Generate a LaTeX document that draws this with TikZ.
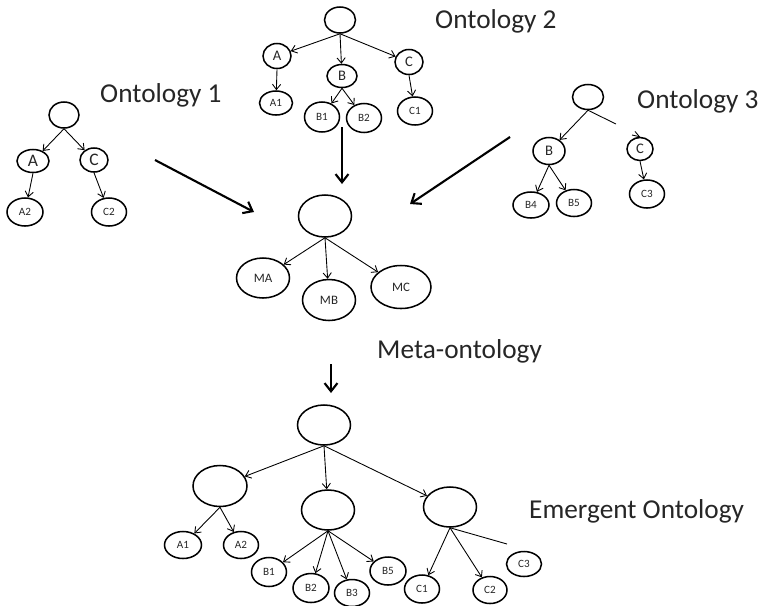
\documentclass[tikz,border=0pt]{standalone}
\usepackage{fontspec}
\setmainfont{Carlito}
\usetikzlibrary{shapes.geometric,arrows.meta}
\newcommand{\pxu}{0.03cm}
\tikzset{
  onode/.style={ellipse, draw, line width=1.3pt, inner sep=0pt, text=black!85},
  sz/.style 2 args={minimum width={#1*\pxu}, minimum height={#2*\pxu}},
  edge/.style={line width=0.75pt, -{Straight Barb[length=4.5pt,width=7pt]}},
  plainedge/.style={line width=0.75pt},
  bigarrow/.style={line width=1.8pt, -{Straight Barb[length=7pt,width=11pt]}},
  title/.style={anchor=base west, inner sep=0pt, font=\fontsize{23.3}{28}\selectfont, text=black!85},
  lbig/.style={font=\fontsize{15}{17}\selectfont},
  lmid/.style={font=\fontsize{12.5}{14}\selectfont},
  lsmall/.style={font=\fontsize{9.5}{11}\selectfont},
  lmeta/.style={font=\fontsize{11}{13}\selectfont},
}
\begin{document}
\begin{tikzpicture}[x=\pxu, y=-\pxu]
\useasboundingbox (0,0) rectangle (761,605);

% ---- Ontology 1 ----
\node[onode, sz={30}{26}] (o1r) at (64,115) {};
\node[onode, sz={32}{23}, lbig] (o1a) at (33,161) {A};
\node[onode, sz={28}{24}, lbig] (o1c) at (94,160) {C};
\node[onode, sz={36}{28}, lsmall] (o1a2) at (25,212) {A2};
\node[onode, sz={35}{28}, lsmall] (o1c2) at (109,212) {C2};
\draw[edge] (o1r.south) -- (o1a);
\draw[edge] (o1r.south) -- (o1c);
\draw[edge] (o1a.south) -- (o1a2);
\draw[edge] (o1c.south) -- (o1c2);
\node[title] (t1) at (100,102) {Ontology 1};

% ---- Ontology 2 ----
\node[onode, sz={31}{26}] (o2r) at (340,20) {};
\node[onode, sz={28}{25}, lmid] (o2a) at (277,56) {A};
\node[onode, sz={30}{23}, lmid] (o2b) at (342,76) {B};
\node[onode, sz={28}{25}, lmid] (o2c) at (409,62) {C};
\node[onode, sz={33}{24}, lsmall] (o2a1) at (276,103) {A1};
\node[onode, sz={35}{30}, lsmall] (o2b1) at (322,117) {B1};
\node[onode, sz={35}{29}, lsmall] (o2b2) at (364,118) {B2};
\node[onode, sz={35}{28}, lsmall] (o2c1) at (415,111) {C1};
\draw[edge] (o2r.south) -- (o2a);
\draw[edge] (o2r.south) -- (o2b);
\draw[edge] (o2r.south) -- (o2c);
\draw[edge] (o2a.south) -- (o2a1);
\draw[edge] (o2b.south) -- (o2b1);
\draw[edge] (o2b.south) -- (o2b2);
\draw[edge] (o2c.south) -- (o2c1);
\node[title] (t2) at (435,28) {Ontology 2};

% ---- Ontology 3 ----
\node[onode, sz={31}{25}] (o3r) at (588,97) {};
\node[onode, sz={32}{27}, lmid] (o3b) at (549,151) {B};
\node[onode, sz={26}{23}, lmid] (o3c) at (640,149) {C};
\node[onode, sz={36}{26}, lsmall] (o3b4) at (531,205) {B4};
\node[onode, sz={35}{27}, lsmall] (o3b5) at (574,203) {B5};
\node[onode, sz={35}{28}, lsmall] (o3c3) at (647,194) {C3};
\coordinate (o3gap) at (616,124);
\coordinate (o3tip) at (632,135);
\draw[edge] (o3r.south) -- (o3b);
\draw[plainedge] (o3r.south) -- (o3gap);
\draw[edge] (o3tip) -- (o3c.north);
\draw[edge] (o3b.south) -- (o3b4);
\draw[edge] (o3b.south) -- (o3b5);
\draw[edge] (o3c.south) -- (o3c3);
\node[title] (t3) at (637,108) {Ontology 3};

% ---- Meta-ontology ----
\node[onode, sz={53}{42}] (mr) at (325,216) {};
\node[onode, sz={53}{40}, lmeta] (ma) at (263,278) {MA};
\node[onode, sz={53}{41}, lmeta] (mb) at (329,300) {MB};
\node[onode, sz={60}{43}, lmeta] (mc) at (401,287) {MC};
\draw[edge] (mr.south) -- (ma);
\draw[edge] (mr.south) -- (mb);
\draw[edge] (mr.south) -- (mc);
\node[title] (tm) at (377,358) {Meta-ontology};

% ---- merging arrows ----
\coordinate (g1s) at (155,160);
\coordinate (g1e) at (254,212);
\coordinate (g2s) at (342,127);
\coordinate (g2e) at (342,184);
\coordinate (g3s) at (510,137);
\coordinate (g3e) at (410,204);
\coordinate (g4s) at (331,364);
\coordinate (g4e) at (331,393);
\draw[bigarrow] (g1s) -- (g1e);
\draw[bigarrow] (g2s) -- (g2e);
\draw[bigarrow] (g3s) -- (g3e);
\draw[bigarrow] (g4s) -- (g4e);

% ---- Emergent ontology ----
\node[onode, sz={53}{40}] (er) at (324,425) {};
\node[onode, sz={54}{41}] (el) at (220,486) {};
\node[onode, sz={53}{40}] (em) at (328,510) {};
\node[onode, sz={53}{40}] (eR) at (450,507) {};
\node[onode, sz={37}{27}, lsmall] (ea1) at (183,545) {A1};
\node[onode, sz={35}{27}, lsmall] (ea2) at (241,545) {A2};
\node[onode, sz={35}{29}, lsmall] (eb1) at (269,572) {B1};
\node[onode, sz={36}{29}, lsmall] (eb2) at (311,588) {B2};
\node[onode, sz={35}{27}, lsmall] (eb3) at (352,593) {B3};
\node[onode, sz={36}{28}, lsmall] (eb5) at (388,571) {B5};
\node[onode, sz={35}{28}, lsmall] (ec1) at (422,589) {C1};
\node[onode, sz={34}{27}, lsmall] (ec2) at (490,590) {C2};
\node[onode, sz={35}{25}, lsmall] (ec3) at (524,564) {C3};
\coordinate (egap) at (507,544);
\draw[edge] (er.south) -- (el);
\draw[edge] (er.south) -- (em);
\draw[edge] (er.south) -- (eR);
\draw[edge] (el.south) -- (ea1);
\draw[edge] (el.south) -- (ea2);
\draw[edge] (em.south) -- (eb1);
\draw[edge] (em.south) -- (eb2);
\draw[edge] (em.south) -- (eb3);
\draw[edge] (em.south) -- (eb5);
\draw[edge] (eR.south) -- (ec1);
\draw[edge] (eR.south) -- (ec2);
\draw[plainedge] (eR.south) -- (egap);
\node[title] (te) at (529,518) {Emergent Ontology};
\end{tikzpicture}
\end{document}
